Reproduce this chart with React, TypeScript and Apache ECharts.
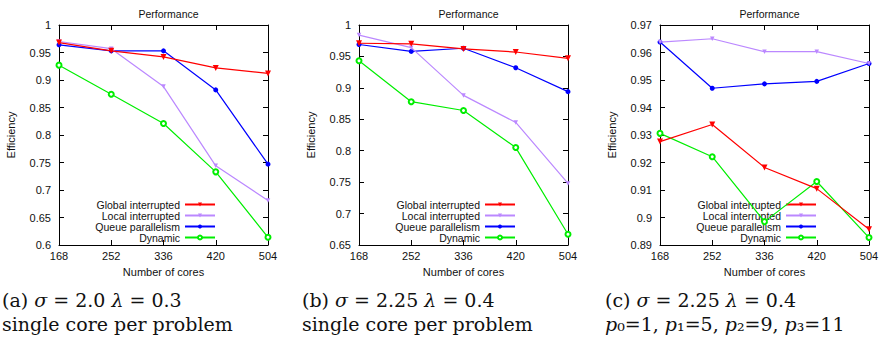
import React, { useEffect, useRef } from "react";
import * as echarts from "echarts";

const cores = [168, 252, 336, 420, 504];
const seriesNames = ["Global interrupted", "Local interrupted", "Queue parallelism", "Dynamic"];

// (a)
const globalA = [0.968, 0.953, 0.942, 0.922, 0.912];
const localA = [0.97, 0.957, 0.888, 0.744, 0.681];
const queueA = [0.964, 0.953, 0.953, 0.882, 0.747];
const dynamicA = [0.927, 0.874, 0.821, 0.733, 0.614];
// (b)
const globalB = [0.971, 0.97, 0.962, 0.957, 0.947];
const localB = [0.984, 0.964, 0.888, 0.845, 0.748];
const queueB = [0.969, 0.958, 0.963, 0.932, 0.894];
const dynamicB = [0.943, 0.878, 0.864, 0.805, 0.667];
// (c)
const globalC = [0.9276, 0.9338, 0.9182, 0.9105, 0.8957];
const localC = [0.9638, 0.965, 0.9603, 0.9603, 0.956];
const queueC = [0.9638, 0.947, 0.9486, 0.9495, 0.956];
const dynamicC = [0.9306, 0.9221, 0.8985, 0.9131, 0.8927];

const yRangeA = [0.6, 1, 0.05];
const yRangeB = [0.65, 1, 0.05];
const yRangeC = [0.89, 0.97, 0.01];
const xRange = [168, 504, 84];

const captionLine1 = [
  "(a) {i|σ} = 2.0 {i|λ} = 0.3",
  "(b) {i|σ} = 2.25 {i|λ} = 0.4",
  "(c) {i|σ} = 2.25 {i|λ} = 0.4",
];
const captionLine2 = [
  "single core per problem",
  "single core per problem",
  "{i|p}₀=1, {i|p}₁=5, {i|p}₂=9, {i|p}₃=11",
];

const panels = [
  { data: [globalA, localA, queueA, dynamicA], y: yRangeA },
  { data: [globalB, localB, queueB, dynamicB], y: yRangeB },
  { data: [globalC, localC, queueC, dynamicC], y: yRangeC },
];

const gridLefts = [59, 359, 660];
const captionLefts = [2, 302, 605];
const GRID_W = 209;
const GRID_TOP = 25;
const GRID_H = 220;
const W = 883;
const H = 344;

const colors = ["#ff0000", "#bb88ff", "#0000ff", "#00ee00"];
const symbols = ["triangle", "triangle", "circle", "emptyCircle"];
const symbolSizes = [6, 4.5, 5, 5];
const symbolRotates = [180, 180, 0, 0];

const FONT = "Liberation Sans";
const SERIF = "DejaVu Serif";

export default function App() {
  const ref = useRef<HTMLDivElement>(null);
  useEffect(() => {
    document.body.style.margin = "0";
    if (!ref.current) return;
    const chart = echarts.init(ref.current, null, { renderer: "svg" });

    const grid: any[] = [];
    const xAxis: any[] = [];
    const yAxis: any[] = [];
    const series: any[] = [];
    const title: any[] = [];
    const legend: any[] = [];
    const graphic: any[] = [];

    panels.forEach((p, g) => {
      const left = gridLefts[g];
      grid.push({ left, top: GRID_TOP, width: GRID_W, height: GRID_H, containLabel: false });
      const axisLine = { show: true, lineStyle: { color: "#000", width: 1 } };
      const axisTick = { show: true, inside: true, length: 5, lineStyle: { color: "#000" } };
      xAxis.push({
        type: "value",
        gridIndex: g,
        min: xRange[0],
        max: xRange[1],
        interval: xRange[2],
        position: "bottom",
        axisLine,
        axisTick,
        splitLine: { show: false },
        axisLabel: { margin: 5, color: "#111", fontFamily: FONT, fontSize: 11 },
        name: "Number of cores",
        nameLocation: "middle",
        nameGap: 21,
        nameTextStyle: { color: "#111", fontFamily: FONT, fontSize: 11 },
      });
      xAxis.push({
        type: "value",
        gridIndex: g,
        min: xRange[0],
        max: xRange[1],
        interval: xRange[2],
        position: "top",
        axisLine,
        axisTick,
        splitLine: { show: false },
        axisLabel: { show: false },
      });
      yAxis.push({
        type: "value",
        gridIndex: g,
        min: p.y[0],
        max: p.y[1],
        interval: p.y[2],
        position: "left",
        axisLine,
        axisTick,
        splitLine: { show: false },
        axisLabel: { margin: 8, color: "#111", fontFamily: FONT, fontSize: 11 },
        name: "Efficiency",
        nameLocation: "middle",
        nameGap: 43,
        nameTextStyle: { color: "#111", fontFamily: FONT, fontSize: 11 },
      });
      yAxis.push({
        type: "value",
        gridIndex: g,
        min: p.y[0],
        max: p.y[1],
        interval: p.y[2],
        position: "right",
        axisLine,
        axisTick,
        splitLine: { show: false },
        axisLabel: { show: false },
      });
      p.data.forEach((vals, s) => {
        series.push({
          type: "line",
          name: seriesNames[s],
          xAxisIndex: g * 2,
          yAxisIndex: g * 2,
          data: cores.map((c, i) => [c, vals[i]]),
          color: colors[s],
          lineStyle: { width: 1.2, color: colors[s] },
          itemStyle: { color: colors[s], borderColor: colors[s], borderWidth: s === 3 ? 1.3 : 0 },
          symbol: symbols[s],
          symbolSize: symbolSizes[s],
          symbolRotate: symbolRotates[s],
          showAllSymbol: true,
          z: 10 - s,
        });
      });
      title.push({
        text: "Performance",
        left: left + GRID_W / 2,
        textAlign: "center",
        top: 3,
        textStyle: { fontFamily: FONT, fontSize: 10.5, fontWeight: "normal", color: "#111" },
      });
      legend.push({
        data: seriesNames,
        orient: "vertical",
        align: "right",
        right: W - (left + 157),
        top: 199,
        padding: 0,
        itemGap: 0,
        itemWidth: 30,
        itemHeight: 5,
        selectedMode: false,
        textStyle: { fontFamily: FONT, fontSize: 10.5, lineHeight: 10.6, color: "#111" },
      });
      const rich = {
        i: { fontStyle: "italic", fontFamily: SERIF, fontSize: 19, fill: "#111" },
      };
      graphic.push({
        type: "text",
        x: captionLefts[g],
        y: 300,
        style: {
          text: captionLine1[g],
          fontFamily: SERIF,
          fontSize: 19,
          fill: "#111",
          verticalAlign: "middle",
          rich,
        },
      });
      graphic.push({
        type: "text",
        x: captionLefts[g],
        y: 324,
        style: {
          text: captionLine2[g],
          fontFamily: SERIF,
          fontSize: 19,
          fill: "#111",
          verticalAlign: "middle",
          rich,
        },
      });
    });

    chart.setOption({
      animation: false,
      backgroundColor: "#fff",
      textStyle: { fontFamily: FONT },
      grid,
      xAxis,
      yAxis,
      series,
      title,
      legend,
      graphic,
    });
    return () => chart.dispose();
  }, []);
  return <div ref={ref} style={{ width: W, height: H }} />;
}
